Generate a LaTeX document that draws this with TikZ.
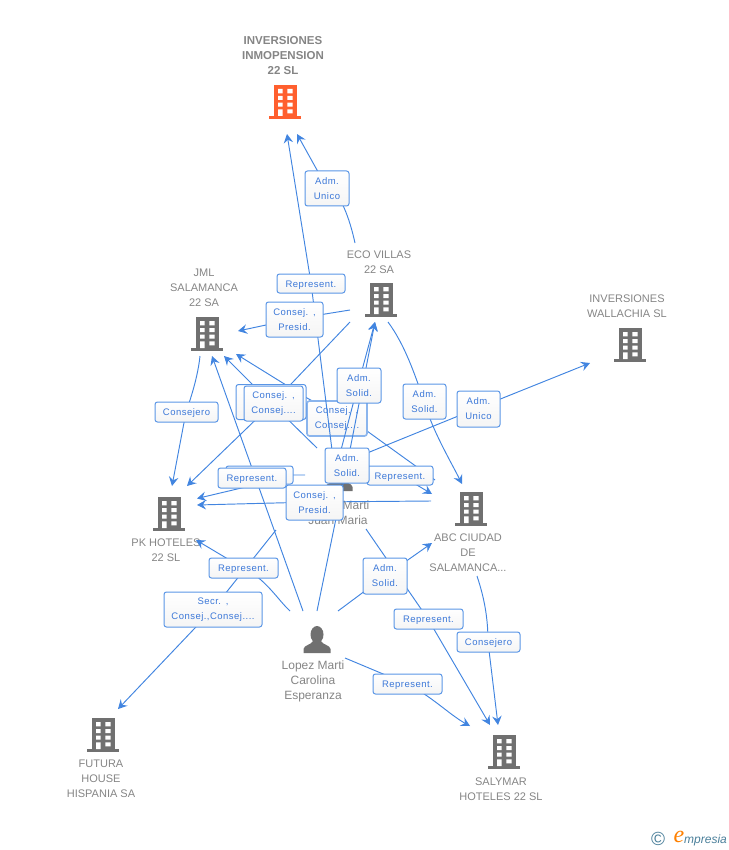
\documentclass[tikz,border=0pt]{standalone}
\usepackage{fontspec}
\setmainfont{Liberation Sans}
\newfontfamily\lblfont[LetterSpace=5]{Liberation Sans}
\newfontfamily\logofont{Liberation Serif}
\usetikzlibrary{arrows.meta}
\definecolor{edgeblue}{HTML}{4285E0}
\definecolor{lbltext}{HTML}{3C78D8}
\definecolor{lblline}{HTML}{5A96E6}
\definecolor{txtgray}{HTML}{858585}
\definecolor{icongray}{HTML}{707070}
\definecolor{iconorange}{HTML}{FF5F2E}
\definecolor{logoteal}{HTML}{4A7F9A}
\tikzset{
  edge/.style={draw=edgeblue,line width=0.95pt,-{Stealth[length=9pt,width=9.5pt,inset=3.2pt]}},
  lblbox/.style={draw=lblline,line width=1pt,rounded corners=2.5pt,top color=white,bottom color=black!4,
    inner sep=0pt,align=center,text=lbltext,font=\lblfont\fontsize{9.5}{15}\selectfont},
  lblghost/.style={lblbox,draw=lblline!70,line width=1.6pt},
  oneline/.style={text height=7pt,text depth=0pt},
  enttext/.style={text=txtgray,align=center,inner sep=0pt,font=\fontsize{11}{15}\selectfont},
  enttitle/.style={text=txtgray,align=center,inner sep=0pt,font=\bfseries\fontsize{11.5}{15}\selectfont},
  iconbox/.style={inner sep=0pt,minimum width=32pt,minimum height=34pt,draw=none},
}
% #1 name, #2 centre x, #3 top y, #4 colour
\newcommand{\bldg}[4]{%
  \node[iconbox] (#1) at (#2,#3+17) {};
  \begin{scope}[shift={(#2,#3)}]
    \fill[#4] (-11.5,0) rectangle (11.5,32);
    \fill[#4] (-16,31) rectangle (16,34);
    \fill[white] (-7,4) rectangle (-2.3,8.3) (2.3,4) rectangle (7.7,8.3)
      (-7,11) rectangle (-2.3,15) (2.3,11) rectangle (7.7,15)
      (-7,17.7) rectangle (-2.3,21.7) (2.3,17.7) rectangle (7.7,21.7)
      (-7,24.3) rectangle (-2.3,31) (2.3,24.3) rectangle (7.7,28.3);
  \end{scope}}
% #1 name, #2 centre x, #3 bottom y
\newcommand{\persona}[3]{%
  \node[inner sep=0pt,minimum width=27pt,minimum height=27pt] (#1) at (#2,#3-13.5) {};
  \begin{scope}[shift={(#2,#3)}]
    \fill[icongray] (0,-18.5) ellipse (6.5 and 8.5);
    \fill[icongray] (-13.5,0) -- (-13.5,-4) .. controls (-13,-8) and (-6,-8) .. (-4,-12)
      -- (4,-12) .. controls (6,-8) and (13,-8) .. (13.5,-4) -- (13.5,0) -- cycle;
  \end{scope}}
% #1 name, #2 cx, #3 cy, #4 w, #5 h, #6 text
\newcommand{\lbl}[6]{\node[lblbox,minimum width=#4pt,minimum height=#5pt,text width=#4pt] (#1) at (#2,#3) {#6};}
\newcommand{\lblo}[6]{\node[lblbox,oneline,minimum width=#4pt,minimum height=#5pt,text width=#4pt] (#1) at (#2,#3) {#6};}
\newcommand{\lblg}[6]{\node[lblghost,minimum width=#4pt,minimum height=#5pt,text width=#4pt] (#1) at (#2,#3) {#6};}
\begin{document}
\begin{tikzpicture}[x=1pt,y=-1pt]
\useasboundingbox (0,0) rectangle (728,850);
% entities
\bldg{inm}{285}{85}{iconorange}
\bldg{eco}{381}{283}{icongray}
\bldg{jml}{207}{317}{icongray}
\bldg{wal}{630}{328}{icongray}
\bldg{pk}{169}{497}{icongray}
\bldg{abc}{471}{492}{icongray}
\bldg{fut}{103}{718}{icongray}
\bldg{sal}{504}{735}{icongray}
\persona{juan}{339}{491}
\persona{lopez}{317}{653}
\node[enttitle] (tinm) at (283,56) {INVERSIONES\\INMOPENSION\\22 SL};
\node[enttext] (teco) at (379,262) {ECO VILLAS\\22 SA};
\node[enttext] (tjml) at (204,288) {JML\\SALAMANCA\\22 SA};
\node[enttext] (twal) at (627,306) {INVERSIONES\\WALLACHIA SL};
\node[enttext] (tpk) at (166,550) {PK HOTELES\\22 SL};
\node[enttext] (tabc) at (468,553) {ABC CIUDAD\\DE\\SALAMANCA...};
\node[enttext] (tfut) at (101,779) {FUTURA\\HOUSE\\HISPANIA SA};
\node[enttext] (tsal) at (501,789) {SALYMAR\\HOTELES 22 SL};
\node[enttext,font=\fontsize{12}{15}\selectfont] (tjuan) at (338,512.5) {Lopez Marti\\Juan Maria};
\node[enttext,font=\fontsize{12}{15}\selectfont] (tlopez) at (313,681) {Lopez Marti\\Carolina\\Esperanza};
% free ends
\coordinate (a1) at (297,134);
\coordinate (a2) at (287,134);
\coordinate (a3) at (238,331);
\coordinate (a4) at (375,322);
\coordinate (a5) at (590,363);
\coordinate (a6) at (462,484);
\coordinate (a7) at (212,356);
\coordinate (a8) at (224,356);
\coordinate (a9) at (236,354);
\coordinate (a10) at (172,486);
\coordinate (a11) at (187,486);
\coordinate (a12) at (197,498.5);
\coordinate (a13) at (197,505);
\coordinate (a14) at (196,540);
\coordinate (a15) at (118,709);
\coordinate (a16) at (432,543);
\coordinate (a17) at (490,725);
\coordinate (a18) at (498,725);
\coordinate (a19) at (470,726);
\coordinate (a20) at (432,494);
\coordinate (s1) at (355,243);
\coordinate (s2) at (350,310);
\coordinate (s3) at (350,322);
\coordinate (s4) at (388,322);
\coordinate (s5) at (200,356);
\coordinate (s6) at (431,501);
\coordinate (s7) at (305,475);
\coordinate (s8) at (290,611);
\coordinate (s9) at (303,611);
\coordinate (s10) at (317,611);
\coordinate (s11) at (338,611);
\coordinate (s12) at (345,658);
\coordinate (s13) at (477,576);
\coordinate (s14) at (366,529);
\coordinate (s15) at (276,530);
\coordinate (s16) at (435,480);
\coordinate (s17) at (332,450);
\coordinate (s18) at (317,448);
\coordinate (s19) at (341,450);
\coordinate (s20) at (345,462);
\coordinate (s21) at (345,460);
% waypoints under the label boxes
\coordinate (Lunico) at (327,188);
\coordinate (Lrep) at (311,283);
\coordinate (Lpres) at (294,319);
\coordinate (Lsol1) at (358,385);
\coordinate (Lsol2) at (424,401);
\coordinate (Luni2) at (478,408);
\coordinate (Lcons) at (186,412);
\coordinate (Lback) at (270,402);
\coordinate (Lfront) at (273,403);
\coordinate (Lthirda) at (307,398);
\coordinate (Lthirdb) at (367,431);
\coordinate (Lsol4) at (347,465);
\coordinate (Lrb) at (260,475);
\coordinate (Lrf) at (252,485.5);
\coordinate (Lrr) at (400,475);
\coordinate (Lpp) at (314,502);
\coordinate (Lr5) at (243,568);
\coordinate (Lsecr) at (213,609);
\coordinate (Lsol5) at (385,576);
\coordinate (Lr6) at (428,619);
\coordinate (Lc2) at (488,642);
\coordinate (Lr7) at (407,684);
% connectors
\draw[edge] (s1) .. controls (350,220) and (340,190) .. (Lunico) -- (a1);
\draw[edge] (s2) -- (Lpres) -- (a3);
\draw[edge] (s4) .. controls (405,345) and (415,375) .. (Lsol2) .. controls (432,430) and (450,460) .. (a6);
\draw[edge] (s5) .. controls (198,375) and (192,395) .. (Lcons) -- (a10);
\draw[edge] (s3) -- (Lfront) -- (a11);
\draw[edge] (s18) -- (Lback) -- (a8);
\draw[edge] (s16) -- (Lthirdb) -- (Lthirda) -- (a9);
\draw[edge] (s9) -- (a7);
\draw[edge] (s7) -- (Lrb) -- (Lrf) -- (a12);
\draw[edge] (s6) -- (Lpp) -- (a13);
\draw[edge] (s21) -- (Lrr) -- (a20);
\draw[edge] (s8) .. controls (278,600) and (265,578) .. (Lr5) -- (a14);
\draw[edge] (s15) -- (Lsecr) -- (a15);
\draw[edge] (s11) -- (Lsol5) -- (a16);
\draw[edge] (s14) -- (Lr6) -- (a17);
\draw[edge] (s13) .. controls (485,600) and (488,620) .. (Lc2) -- (a18);
\draw[edge] (s12) -- (Lr7) .. controls (430,695) and (450,715) .. (a19);
% this box lies under the lines that follow
\lblg{l6}{337}{418.5}{60}{35}{Consej. ,\\Consej....}
\draw[edge] (s17) -- (Lrep) -- (a2);
\draw[edge] (s19) -- (Lsol1) -- (a4);
\draw[edge] (s10) -- (Lsol4) -- (a4);
\draw[edge] (s20) -- (Luni2) -- (a5);
% labels
\lbl{l1}{327}{188.5}{44}{35}{Adm.\\Unico}
\lblo{l2}{311}{283.5}{68}{19}{Represent.}
\lbl{l3}{294.5}{319.5}{57}{35}{Consej. ,\\Presid.}
\lbl{l4}{359}{385.5}{44}{35}{Adm.\\Solid.}
\lbl{l5}{424.5}{401.5}{43}{35}{Adm.\\Solid.}
\lbl{l7}{478.5}{409}{43}{36}{Adm.\\Unico}
\lblo{l8}{186.5}{412}{63}{20}{Consejero}
\lbl{l9}{271}{402}{70}{35}{}
\lbl{l10}{273.5}{403.5}{59}{35}{Consej. ,\\Consej....}
\lblo{l11}{259.5}{475}{67}{18}{}
\lblo{l12}{252}{478}{68}{20}{Represent.}
\lblo{l13}{400}{475.5}{66}{19}{Represent.}
\lbl{l14}{347}{465.5}{44}{35}{Adm.\\Solid.}
\lbl{l15}{314.5}{502.5}{57}{35}{Consej. ,\\Presid.}
\lblo{l16}{243.5}{568}{69}{20}{Represent.}
\lbl{l17}{213}{609.5}{98}{35}{Secr. ,\\Consej.,Consej....}
\lbl{l18}{385}{576}{44}{36}{Adm.\\Solid.}
\lblo{l19}{428.5}{619}{69}{20}{Represent.}
\lblo{l20}{488.5}{642}{63}{20}{Consejero}
\lblo{l21}{407.5}{684}{69}{20}{Represent.}
% logo
\node[inner sep=0pt,text=logoteal,font=\fontsize{19}{19}\selectfont] (copy) at (658,839) {©};
\node[inner sep=0pt,text=orange,font=\logofont\itshape\fontsize{24}{24}\selectfont] (loge) at (679,837) {e};
\node[inner sep=0pt,anchor=west,text=logoteal,font=\itshape\fontsize{12}{12}\selectfont] (logt) at (684,840) {mpresia};
\end{tikzpicture}
\end{document}
